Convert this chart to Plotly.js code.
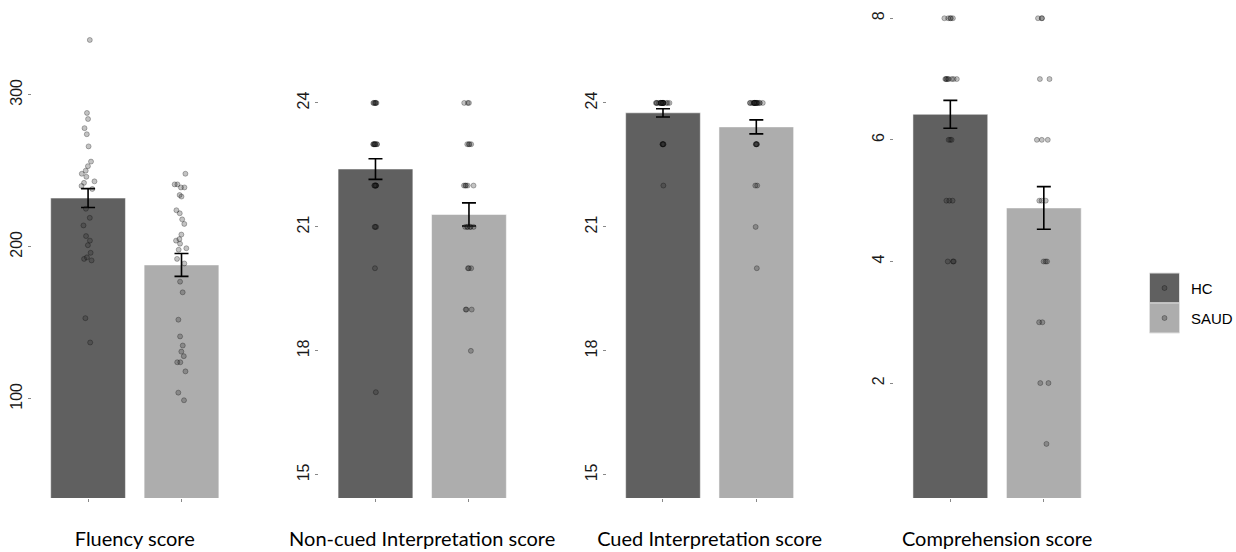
<!DOCTYPE html>
<html>
<head>
<meta charset="utf-8">
<script src="https://cdn.plot.ly/plotly-3.0.1.min.js"></script>
<style>html,body{margin:0;padding:0;background:#fff;}#chart{width:1236px;height:552px;}</style>
</head>
<body>
<div id="chart"></div>
<script>
// ---- data ----
const groups = ["HC", "SAUD"];
const panelTitles = ["Fluency score", "Non-cued Interpretation score", "Cued Interpretation score", "Comprehension score"];

const fluencyMeans = [232, 188];
const fluencySE = [6.2, 7.5];
const fluencyHC = [336, 288, 284, 278, 274, 266, 256, 253, 250, 248, 246, 243, 242, 240, 238, 225, 219, 214, 207, 204, 201, 196, 193, 192, 191, 153, 137];
const fluencySAUD = [248, 241, 241, 239, 239, 234, 233, 224, 222, 218, 215, 208, 205, 204, 202, 199, 198, 192, 189, 177, 170, 152, 141, 135, 131, 128, 124, 124, 118, 104, 99];

const noncuedMeans = [22.4, 21.3];
const noncuedSE = [0.25, 0.28];
const noncuedHC = [24, 24, 24, 24, 24, 24, 23, 23, 23, 23, 23, 23, 23, 23, 22, 22, 22, 22, 22, 22, 22, 21, 21, 21, 20, 17];
const noncuedSAUD = [24, 24, 24, 23, 23, 23, 23, 22, 22, 22, 22, 22, 21, 21, 21, 21, 21, 21, 20, 20, 20, 19, 19, 19, 18];

const cuedMeans = [23.76, 23.42];
const cuedSE = [0.1, 0.17];
const cuedHC = [24, 24, 24, 24, 24, 24, 24, 24, 24, 24, 24, 24, 24, 24, 24, 24, 24, 24, 24, 24, 23, 23, 23, 23, 23, 22];
const cuedSAUD = [24, 24, 24, 24, 24, 24, 24, 24, 24, 24, 24, 24, 24, 24, 24, 24, 24, 24, 23, 23, 23, 23, 23, 22, 22, 21, 20];

const comprehMeans = [6.42, 4.88];
const comprehSE = [0.23, 0.35];
const comprehHC = [8, 8, 8, 8, 8, 7, 7, 7, 7, 7, 7, 7, 7, 6, 6, 6, 5, 5, 5, 4, 4, 4];
const comprehSAUD = [8, 8, 8, 7, 7, 6, 6, 6, 5, 5, 5, 4, 4, 4, 3, 3, 2, 2, 1];

const yTicks = [[100, 200, 300], [15, 18, 21, 24], [15, 18, 21, 24], [2, 4, 6, 8]];
const yRanges = [[34.7, 362.3], [14.44, 26.49], [14.44, 26.49], [0.11, 8.30]];
const domains = [[0.0259, 0.1922], [0.2584, 0.4248], [0.4911, 0.6572], [0.7235, 0.8899]];

// ---- build ----
const barColors = ["#606060", "#adadad"];
const panels = [
  {means: fluencyMeans, se: fluencySE, pts: [fluencyHC, fluencySAUD]},
  {means: noncuedMeans, se: noncuedSE, pts: [noncuedHC, noncuedSAUD]},
  {means: cuedMeans, se: cuedSE, pts: [cuedHC, cuedSAUD]},
  {means: comprehMeans, se: comprehSE, pts: [comprehHC, comprehSAUD]}
];

const W = 1236, PH = 498; // figure width, plot-area height (t=0, b=54)
const traces = [];
const layout = {
  width: 1236, height: 552,
  margin: {l: 0, r: 0, t: 0, b: 54},
  paper_bgcolor: "#fff", plot_bgcolor: "#fff",
  showlegend: false,
  barmode: "overlay", bargap: 0.2,
  boxmode: "overlay",
  font: {family: "Liberation Sans, Arial, sans-serif", color: "#1a1a1a"},
  shapes: [], annotations: []
};

panels.forEach((p, i) => {
  const xa = "x" + (i === 0 ? "" : i + 1);
  const ya = "y" + (i === 0 ? "" : i + 1);
  traces.push({
    type: "bar", x: groups, y: p.means, xaxis: xa, yaxis: ya,
    marker: {color: barColors, line: {color: "rgba(255,255,255,0.5)", width: 1}},
    error_y: {type: "data", array: p.se, visible: true, color: "#000", thickness: 1.6, width: 7},
    hoverinfo: "skip"
  });
  p.pts.forEach((vals, g) => {
    traces.push({
      type: "box", x: vals.map(() => groups[g]), y: vals, xaxis: xa, yaxis: ya,
      boxpoints: "all", jitter: 0.32, pointpos: 0,
      fillcolor: "rgba(0,0,0,0)", line: {width: 0, color: "rgba(0,0,0,0)"},
      marker: {size: 5, color: "rgba(40,40,40,0.28)", line: {width: 0.8, color: "rgba(0,0,0,0.35)"}},
      hoverinfo: "skip"
    });
  });
  const xkey = "xaxis" + (i === 0 ? "" : i + 1);
  const ykey = "yaxis" + (i === 0 ? "" : i + 1);
  layout[xkey] = {
    domain: domains[i], anchor: ya, type: "category",
    categoryorder: "array", categoryarray: groups, range: [-0.6, 1.6],
    showticklabels: false, ticks: "outside", ticklen: 3, tickcolor: "#888", tickwidth: 1,
    showgrid: false, zeroline: false, showline: false, fixedrange: true,
    title: {text: panelTitles[i], standoff: 30, font: {family: "Lato, Open Sans, sans-serif", size: 20, color: "#000"}}
  };
  layout[ykey] = {
    domain: [0, 1], anchor: xa, range: yRanges[i],
    tickvals: yTicks[i], ticktext: yTicks[i].map(String), tickangle: -90,
    ticks: "outside", ticklen: 3, tickcolor: "#888", tickwidth: 1,
    tickfont: {size: 16, color: "#1a1a1a"},
    showgrid: false, zeroline: false, showline: false, fixedrange: true
  };
});

// ---- legend (drawn manually to match the big key squares) ----
groups.forEach((g, k) => {
  const top = 273 + 30 * k, mid = top + 15;
  layout.shapes.push({type: "rect", xref: "paper", yref: "paper",
    x0: 1149.5 / W, x1: 1179.5 / W, y0: 1 - (top + 30) / PH, y1: 1 - top / PH,
    fillcolor: barColors[k], line: {color: "#e0e0e0", width: 1}});
  layout.shapes.push({type: "circle", xref: "paper", yref: "paper",
    x0: 1162 / W, x1: 1167 / W, y0: 1 - (mid + 2.5) / PH, y1: 1 - (mid - 2.5) / PH,
    fillcolor: "rgba(40,40,40,0.3)", line: {color: "rgba(0,0,0,0.35)", width: 0.8}});
  layout.annotations.push({xref: "paper", yref: "paper", x: 1189 / W, y: 1 - mid / PH,
    xanchor: "left", yanchor: "middle", showarrow: false, text: g,
    font: {family: "Liberation Sans, Arial, sans-serif", size: 15, color: "#000"}});
});

Plotly.newPlot("chart", traces, layout, {displayModeBar: false, staticPlot: true});
</script>
</body>
</html>
